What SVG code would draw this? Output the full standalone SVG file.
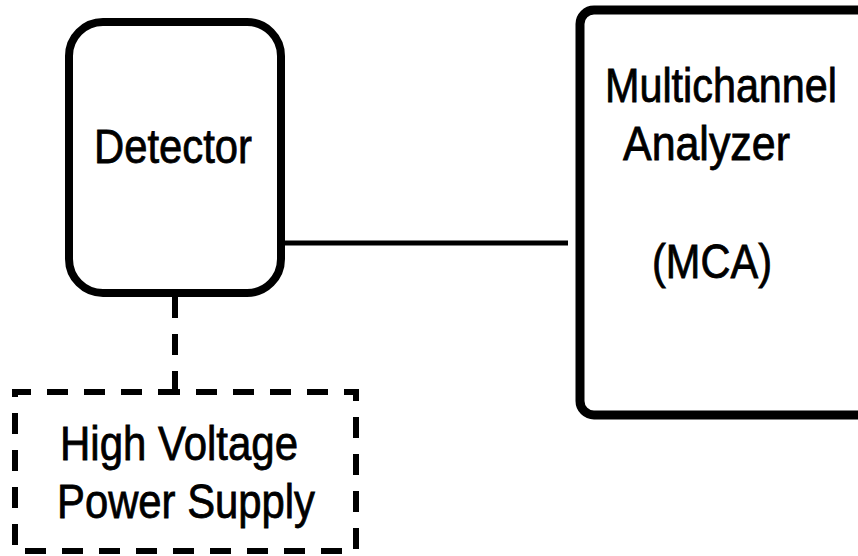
<svg xmlns="http://www.w3.org/2000/svg" width="858" height="556" viewBox="0 0 858 556">
  <style>
    .box { fill: #ffffff; stroke: #000000; stroke-width: 8; }
    .dash { fill: none; stroke: #000000; stroke-width: 6; stroke-dasharray: 21 16; }
    .wire { fill: none; stroke: #000000; stroke-width: 5; }
    .label { font-family: "Liberation Sans", Arial, sans-serif; font-size: 48px; fill: #000000; stroke: #000000; stroke-width: 0.8; }
  </style>
  <rect width="858" height="556" fill="#ffffff"/>

  <g id="connectors">
    <line class="wire" x1="285" y1="243" x2="568" y2="243"/>
    <line class="dash" x1="175" y1="297" x2="175" y2="392"/>
  </g>

  <g id="detector">
    <rect class="box" x="69" y="22" width="212" height="271" rx="34"/>
    <text class="label" x="94" y="163" textLength="158" lengthAdjust="spacingAndGlyphs">Detector</text>
  </g>

  <g id="mca">
    <rect class="box" x="580" y="10" width="310" height="405" rx="14" style="stroke-width:9"/>
    <text class="label" x="605" y="102" textLength="232" lengthAdjust="spacingAndGlyphs">Multichannel</text>
    <text class="label" x="623" y="160" textLength="167" lengthAdjust="spacingAndGlyphs">Analyzer</text>
    <text class="label" x="652" y="278" textLength="120" lengthAdjust="spacingAndGlyphs">(MCA)</text>
  </g>

  <g id="hv-supply">
    <path class="dash" d="M175 392 H356 V551 H15 V392 H175" stroke-dashoffset="16"/>
    <text class="label" x="60" y="460" textLength="238" lengthAdjust="spacingAndGlyphs">High Voltage</text>
    <text class="label" x="57" y="518" textLength="258" lengthAdjust="spacingAndGlyphs">Power Supply</text>
  </g>
</svg>
